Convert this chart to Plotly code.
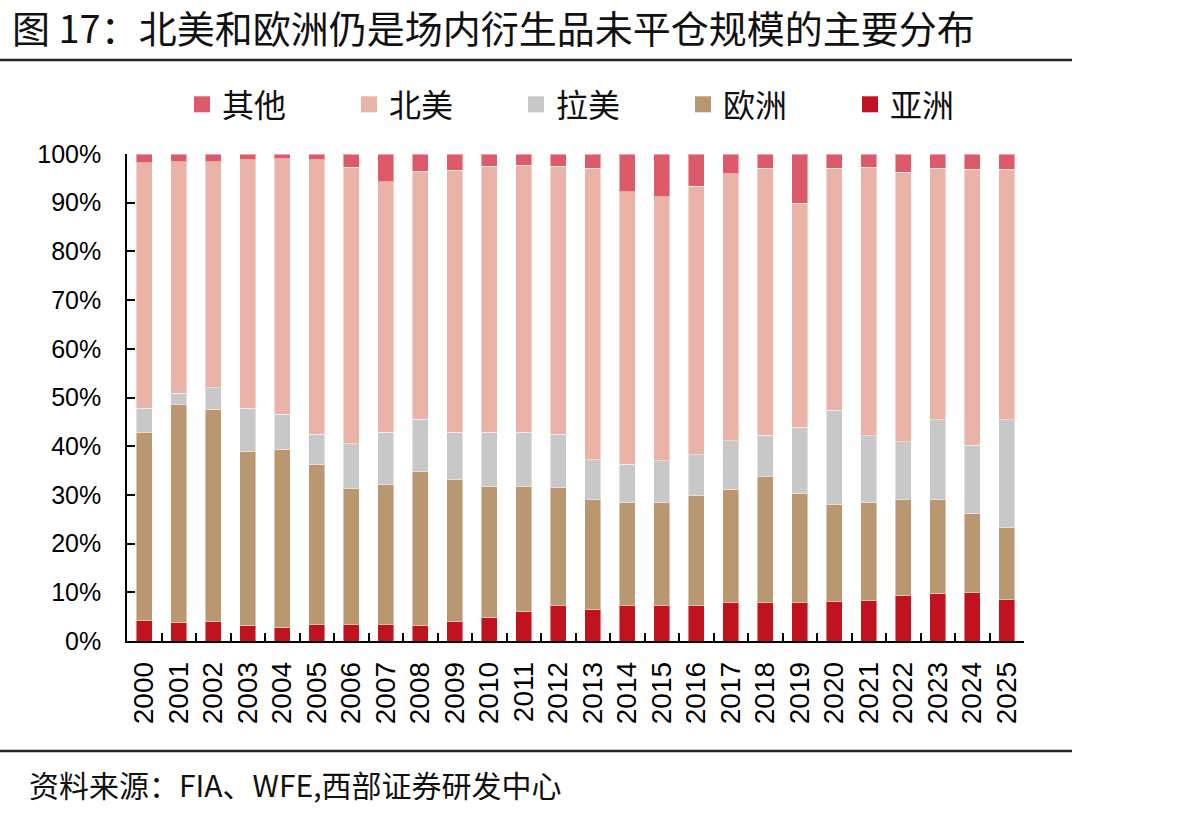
import plotly.graph_objects as go

years = [str(y) for y in range(2000, 2026)]
asia = [4.2, 3.7, 4.1, 3.1, 2.7, 3.3, 3.3, 3.3, 3.1, 4.1, 4.9, 6.0, 7.3, 6.4, 7.2, 7.3, 7.3, 8.0, 8.0, 8.0, 8.2, 8.4, 9.4, 9.7, 9.9, 8.6]
europe = [38.7, 44.8, 43.5, 35.9, 36.7, 33.0, 28.1, 28.9, 31.8, 29.0, 26.9, 25.8, 24.3, 22.6, 21.3, 21.2, 22.5, 23.2, 25.7, 22.3, 19.9, 20.1, 19.6, 19.3, 16.2, 14.8]
latam = [4.9, 2.4, 4.4, 8.8, 7.2, 6.2, 9.1, 10.7, 10.6, 9.8, 11.1, 11.1, 10.9, 8.2, 7.8, 8.5, 8.4, 9.9, 8.6, 13.6, 19.3, 13.6, 11.9, 16.4, 14.1, 22.0]
namerica = [50.4, 47.5, 46.4, 51.0, 52.4, 56.3, 56.8, 51.4, 51.0, 53.8, 54.6, 54.8, 55.0, 59.9, 55.9, 54.2, 55.2, 54.8, 54.8, 46.0, 49.7, 55.2, 55.4, 51.7, 56.7, 51.5]
other = [1.8, 1.6, 1.6, 1.2, 1.0, 1.2, 2.7, 5.7, 3.5, 3.3, 2.5, 2.3, 2.5, 2.9, 7.8, 8.8, 6.6, 4.1, 2.9, 10.1, 2.9, 2.7, 3.7, 2.9, 3.1, 3.1]

series = [
    ("亚洲", asia, "#C1121F"),
    ("欧洲", europe, "#B99771"),
    ("拉美", latam, "#C8C8C8"),
    ("北美", namerica, "#E9B3A8"),
    ("其他", other, "#DC5A6A"),
]

CJK = "Noto Sans CJK SC"
LAT = "Liberation Sans, Arial"

fig = go.Figure()
for name, vals, col in series:
    fig.add_trace(go.Bar(
        x=years, y=vals, name=name, showlegend=False,
        marker=dict(color=col, line=dict(color="rgba(255,255,255,0.45)", width=1)),
    ))

# legend entries (larger square symbols), in reference order
for name, vals, col in reversed(series):
    fig.add_trace(go.Scatter(
        x=[None], y=[None], mode="markers", name=name,
        marker=dict(symbol="square", size=18, color=col),
    ))

fig.update_layout(
    width=1193, height=818,
    barmode="stack", bargap=0.55,
    plot_bgcolor="white", paper_bgcolor="white",
    margin=dict(l=127, r=169, t=154, b=177, autoexpand=False),
    showlegend=True,
    legend=dict(
        orientation="h", xref="container", yref="container",
        x=182 / 1193, xanchor="left", y=1 - 77 / 818, yanchor="top",
        font=dict(family=CJK, size=32, color="#111"),
        entrywidth=122, entrywidthmode="pixels", traceorder="normal",
        bgcolor="rgba(0,0,0,0)",
    ),
    xaxis=dict(
        type="category", range=[-0.5, 25.5],
        showline=True, linecolor="black", linewidth=1.5,
        ticks="inside", tickson="boundaries", ticklen=8, tickcolor="black", tickwidth=1.5,
        tickangle=-90, tickfont=dict(family=LAT, size=28, color="black"),
        ticklabelstandoff=8,
        showgrid=False, zeroline=False,
    ),
    yaxis=dict(
        range=[0, 100], dtick=10, ticksuffix="%",
        showline=True, linecolor="black", linewidth=1.5,
        ticks="inside", ticklen=8, tickcolor="black", tickwidth=1.5,
        tickfont=dict(family=LAT, size=25, color="black"),
        ticklabelstandoff=19,
        showgrid=False, zeroline=False,
    ),
    shapes=[
        dict(type="line", xref="paper", yref="paper",
             x0=-127 / 897, x1=(1072 - 127) / 897, y0=(641 - 60) / 487, y1=(641 - 60) / 487,
             line=dict(color="#222", width=2.5)),
        dict(type="line", xref="paper", yref="paper",
             x0=-127 / 897, x1=(1072 - 127) / 897, y0=(641 - 751) / 487, y1=(641 - 751) / 487,
             line=dict(color="#222", width=2.5)),
    ],
    annotations=[
        dict(text="图 17：北美和欧洲仍是场内衍生品未平仓规模的主要分布",
             xref="paper", yref="paper", x=-117 / 897, y=(641 - 26) / 487,
             xanchor="left", yanchor="middle", showarrow=False,
             font=dict(family=CJK, size=38, color="#111")),
        dict(text="资料来源：FIA、WFE,西部证券研发中心",
             xref="paper", yref="paper", x=-100 / 897, y=(641 - 784) / 487,
             xanchor="left", yanchor="middle", showarrow=False,
             font=dict(family=CJK, size=30, color="#111")),
    ],
)

fig.write_html("out.html")
